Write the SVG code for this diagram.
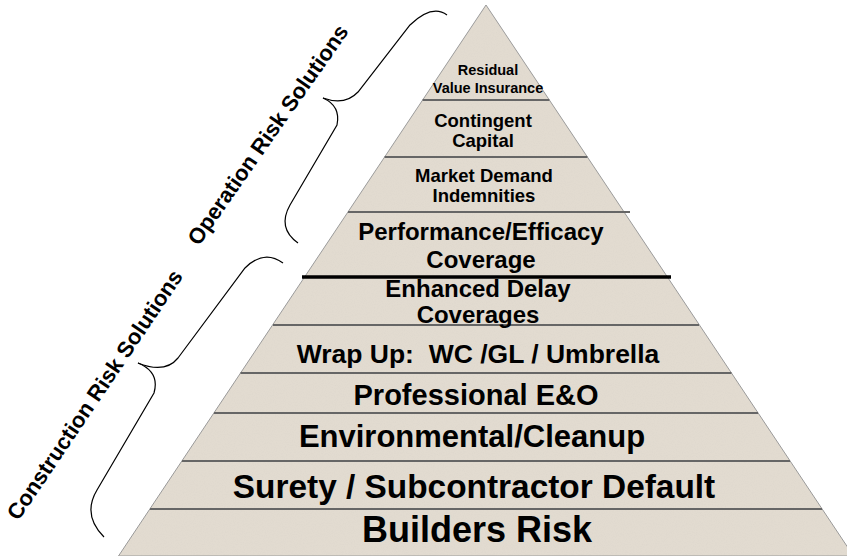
<svg xmlns="http://www.w3.org/2000/svg" width="847" height="556" viewBox="0 0 847 556">
<defs>
<filter id="grain" x="0" y="0" width="100%" height="100%">
<feTurbulence type="fractalNoise" baseFrequency="0.9" numOctaves="2" seed="3" result="n"/>
<feColorMatrix in="n" type="matrix" values="0 0 0 0 0.6  0 0 0 0 0.57  0 0 0 0 0.53  0 0 0 -2.2 1.25" result="d"/>
<feComposite in="d" in2="SourceGraphic" operator="in"/>
</filter>
</defs>
<style>
.t{font-family:"Liberation Sans",Arial,sans-serif;font-weight:bold;fill:#000;text-anchor:middle}
.sep{stroke:#666;stroke-width:2;fill:none}
.brace{stroke:#000;stroke-width:1.2;fill:none}
</style>
<rect width="847" height="556" fill="#fff"/>
<g id="pyramid">
<polygon points="486,5 118.5,556 853.5,556" fill="#e2dbd0" stroke="#9a9a9a" stroke-width="1"/>
<polygon points="486,5 118.5,556 853.5,556" fill="#e2dbd0" filter="url(#grain)" opacity="0.15"/>
</g>
<g id="separators">
<line class="sep" x1="422.6" y1="100" x2="549.4" y2="100"/>
<line class="sep" x1="384.6" y1="157" x2="587.4" y2="157"/>
<line class="sep" x1="348" y1="212" x2="630" y2="212"/>
<line x1="302" y1="277" x2="671" y2="277" stroke="#000" stroke-width="3.5"/>
<line class="sep" x1="273" y1="325" x2="699" y2="325"/>
<line class="sep" x1="240.5" y1="373" x2="731.5" y2="373"/>
<line class="sep" x1="214" y1="413" x2="758" y2="413"/>
<line class="sep" x1="182" y1="461" x2="790" y2="461"/>
<line class="sep" x1="150" y1="509" x2="822" y2="509"/>
</g>
<g id="tier-residual"><text class="t" x="488" y="75" font-size="14.5">Residual</text><text class="t" x="488" y="93" font-size="14.5">Value Insurance</text></g>
<g id="tier-contingent"><text class="t" x="483" y="127" font-size="18.5">Contingent</text><text class="t" x="483" y="147" font-size="18.5">Capital</text></g>
<g id="tier-market"><text class="t" x="484" y="182" font-size="18.5">Market Demand</text><text class="t" x="484" y="202" font-size="18.5">Indemnities</text></g>
<g id="tier-performance"><text class="t" x="481" y="240" font-size="24">Performance/Efficacy</text><text class="t" x="481" y="268" font-size="24">Coverage</text></g>
<g id="tier-delay"><text class="t" x="478" y="297" font-size="24">Enhanced Delay</text><text class="t" x="478" y="323" font-size="24">Coverages</text></g>
<g id="tier-wrapup"><text class="t" x="478" y="363" font-size="26.5" xml:space="preserve">Wrap Up:  WC /GL / Umbrella</text></g>
<g id="tier-professional"><text class="t" x="476" y="405" font-size="29">Professional E&amp;O</text></g>
<g id="tier-environmental"><text class="t" x="472" y="447" font-size="31">Environmental/Cleanup</text></g>
<g id="tier-surety"><text class="t" x="474" y="498" font-size="33.4">Surety / Subcontractor Default</text></g>
<g id="tier-builders"><text class="t" x="477" y="542" font-size="36">Builders Risk</text></g>
<g id="connectors">
<path class="brace" d="M447,15 Q432,4 410,25 L358,92 Q345,106 323,98"/>
<path class="brace" d="M323,98 Q341,106 337,125 L290,205 Q277,228 298,243"/>
<path class="brace" d="M283,263 Q264,249 245,268 L178,358 Q165,374 138,363"/>
<path class="brace" d="M138,363 Q160,372 154,393 L97,490 Q82,515 104,537"/>
</g>
<g id="label-operation"><text class="t" x="274" y="139" font-size="22" transform="rotate(-55 274 139)">Operation Risk Solutions</text></g>
<g id="label-construction"><text class="t" x="101" y="399" font-size="22" transform="rotate(-56 101 399)">Construction Risk Solutions</text></g>
</svg>
